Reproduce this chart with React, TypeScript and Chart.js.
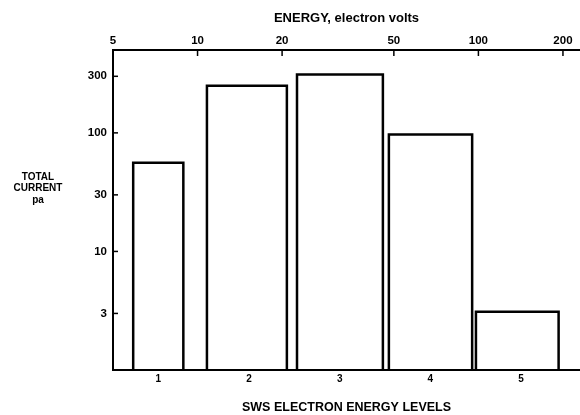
import React, { useEffect, useRef } from "react";
import { Chart, registerables } from "chart.js";

Chart.register(...registerables);

const levels = [1, 2, 3, 4, 5];
const energyLow = [5.9, 10.8, 22.6, 48, 98];
const energyHigh = [8.9, 20.8, 45.7, 95, 193];
const currents = [56, 250, 310, 97, 3.1];
const energyTicks = [5, 10, 20, 50, 100, 200];
const currentTicks = [3, 10, 30, 100, 300];
const yTitleLines = ["TOTAL", "CURRENT", "pa"];

const FONT = "'Liberation Sans', 'DejaVu Sans', sans-serif";
const Y_MIN = 1;

const insideTicks = {
  id: "insideTicks",
  afterDraw(chart: any) {
    const ctx = chart.ctx;
    const y = chart.scales.y;
    const top = chart.scales.xTop;
    const area = chart.chartArea;
    ctx.save();
    ctx.strokeStyle = "#000";
    ctx.lineWidth = 1.5;
    y.ticks.forEach((t: any) => {
      const py = y.getPixelForValue(t.value);
      ctx.beginPath();
      ctx.moveTo(area.left, py);
      ctx.lineTo(area.left + 5, py);
      ctx.stroke();
    });
    top.ticks.forEach((t: any) => {
      const px = top.getPixelForValue(t.value);
      ctx.beginPath();
      ctx.moveTo(px, area.top);
      ctx.lineTo(px, area.top + 6);
      ctx.stroke();
    });
    ctx.fillStyle = "#000";
    ctx.font = `bold 10px ${FONT}`;
    ctx.textAlign = "center";
    ctx.textBaseline = "middle";
    yTitleLines.forEach((s, i) => {
      ctx.fillText(s, area.left - 75, area.top + 127 + i * 11.5);
    });
    ctx.restore();
  },
};

export default function App() {
  const ref = useRef<HTMLCanvasElement>(null);
  useEffect(() => {
    if (!ref.current) return;
    const datasets = levels.map((lv, i) => ({
      label: `Level ${lv}`,
      data: [
        { x: energyLow[i], y: Y_MIN },
        { x: energyLow[i], y: currents[i] },
        { x: energyHigh[i], y: currents[i] },
        { x: energyHigh[i], y: Y_MIN },
      ],
      xAxisID: "xTop",
      yAxisID: "y",
      showLine: true,
      borderColor: "#000",
      borderWidth: 2.5,
      pointRadius: 0,
      fill: false,
      tension: 0,
    }));
    const tickFont = { family: FONT, size: 11.5, weight: "bold" as const };
    const chart = new Chart(ref.current, {
      type: "scatter",
      data: { datasets },
      options: {
        animation: false,
        responsive: false,
        events: [],
        layout: { padding: { left: 0, right: 0, top: 0, bottom: 0 } },
        plugins: { legend: { display: false }, tooltip: { enabled: false } },
        scales: {
          xTop: {
            type: "logarithmic",
            position: "top",
            min: 5,
            max: 230,
            afterBuildTicks: (s: any) => {
              s.ticks = energyTicks.map((v) => ({ value: v }));
            },
            afterFit: (s: any) => {
              s.height = 50;
            },
            grid: { display: true, drawOnChartArea: false, drawTicks: false },
            border: { display: true, color: "#000", width: 2 },
            ticks: {
              color: "#000",
              font: tickFont,
              padding: 2,
              maxRotation: 0,
              autoSkip: false,
              callback: (v: any) => String(v),
            },
            title: {
              display: true,
              text: "ENERGY, electron volts",
              color: "#000",
              font: { family: FONT, size: 13, weight: "bold" as const },
              padding: { top: 11, bottom: 6 },
            },
          },
          x: {
            type: "linear",
            position: "bottom",
            min: 0.5,
            max: 5.65,
            afterBuildTicks: (s: any) => {
              s.ticks = levels.map((v) => ({ value: v }));
            },
            afterFit: (s: any) => {
              s.height = 45;
            },
            grid: { display: true, drawOnChartArea: false, drawTicks: false },
            border: { display: true, color: "#000", width: 2 },
            ticks: {
              color: "#000",
              font: { family: FONT, size: 10, weight: "bold" as const },
              padding: 3,
              maxRotation: 0,
              autoSkip: false,
              callback: (v: any) => String(v),
            },
            title: {
              display: true,
              text: "SWS ELECTRON ENERGY LEVELS",
              color: "#000",
              font: { family: FONT, size: 12.5, weight: "bold" as const },
              padding: { top: 14, bottom: 0 },
            },
          },
          y: {
            type: "logarithmic",
            position: "left",
            min: Y_MIN,
            max: 500,
            afterBuildTicks: (s: any) => {
              s.ticks = currentTicks.map((v) => ({ value: v }));
            },
            afterFit: (s: any) => {
              s.width = 113;
            },
            grid: { display: true, drawOnChartArea: false, drawTicks: false },
            border: { display: true, color: "#000", width: 2 },
            ticks: {
              color: "#000",
              font: tickFont,
              padding: 6,
              autoSkip: false,
              callback: (v: any) => String(v),
            },
          },
        },
      },
      plugins: [insideTicks],
    });
    return () => chart.destroy();
  }, []);
  return (
    <div style={{ position: "fixed", left: 0, top: 0, width: 580, height: 415, background: "#fff" }}>
      <canvas ref={ref} width={580} height={415} style={{ width: 580, height: 415 }} />
    </div>
  );
}
